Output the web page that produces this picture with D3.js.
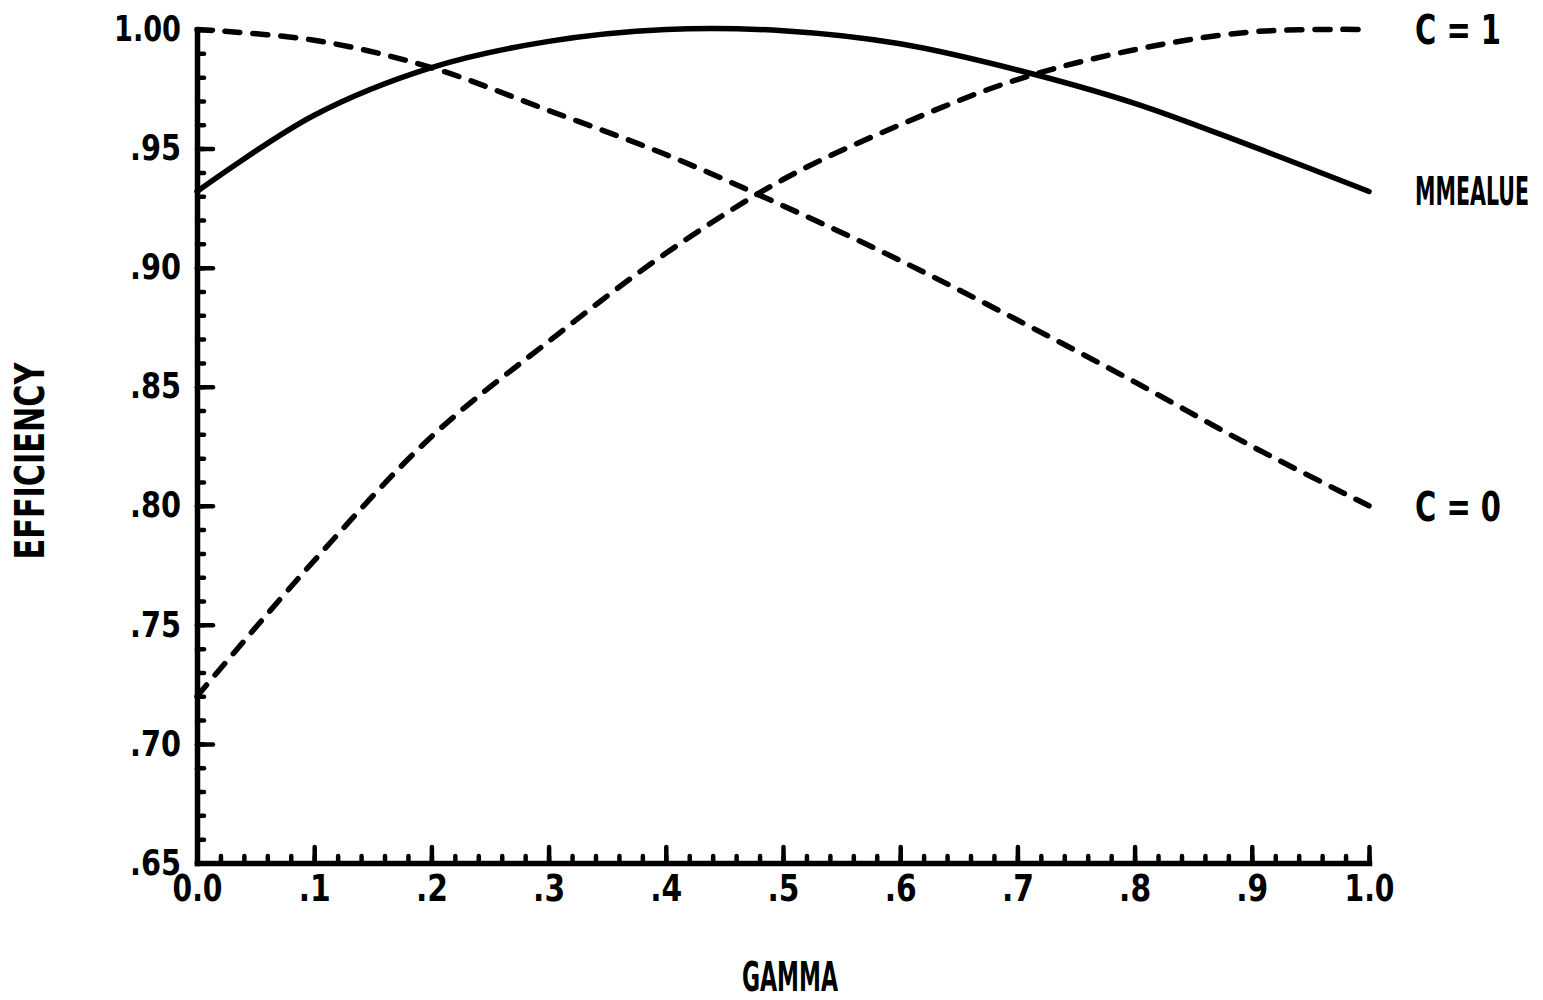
<!DOCTYPE html>
<html>
<head>
<meta charset="utf-8">
<script src="https://cdn.jsdelivr.net/npm/d3@7"></script>
<style>
  html, body { margin: 0; padding: 0; background: #fff; }
  svg { display: block; }
  .lbl { font-family: "DejaVu Sans", "Liberation Sans", sans-serif; font-stretch: condensed; font-weight: bold; fill: #000; }
</style>
</head>
<body>
<script>
// ---- data ----
const gamma   = [0.0, 0.1, 0.2, 0.3, 0.4, 0.5, 0.6, 0.7, 0.8, 0.9, 1.0];
const mmValue = [0.932, 0.964, 0.984, 0.995, 1.000, 0.9995, 0.994, 0.983, 0.969, 0.951, 0.932];
const cZero   = [1.000, 0.9955, 0.984, 0.966, 0.9475, 0.926, 0.903, 0.878, 0.852, 0.825, 0.800];
const cOne    = [0.720, 0.777, 0.829, 0.869, 0.906, 0.937, 0.960, 0.979, 0.9915, 0.999, 1.000];
const xTickValues = [0, 0.1, 0.2, 0.3, 0.4, 0.5, 0.6, 0.7, 0.8, 0.9, 1.0];
const xTickLabels = ["0.0", ".1", ".2", ".3", ".4", ".5", ".6", ".7", ".8", ".9", "1.0"];
const yTickValues = [0.65, 0.70, 0.75, 0.80, 0.85, 0.90, 0.95, 1.00];
const yTickLabels = [".65", ".70", ".75", ".80", ".85", ".90", ".95", "1.00"];
const seriesNames = ["C = 1", "MMEALUE", "C = 0"];
const xTitle = "GAMMA";
const yTitle = "EFFICIENCY";

const W = 1543, H = 1000;
const svg = d3.select("body").append("svg").attr("width", W).attr("height", H);

const x = d3.scaleLinear().domain([0, 1]).range([197, 1369]);
const y = d3.scaleLinear().domain([0.65, 1.0]).range([863, 29.5]);

const xMinor = d3.range(0, 51).map(i => i / 50);
const yMinor = d3.range(0, 36).map(i => 0.65 + i / 100);

// minor ticks
svg.append("g").attr("transform", `translate(0,${y(0.65)})`)
  .call(d3.axisBottom(x).tickValues(xMinor).tickSize(-7).tickSizeOuter(0).tickFormat(""))
  .call(g => g.selectAll("line").attr("stroke", "#000").attr("stroke-width", 4.5).attr("stroke-linecap", "round"))
  .call(g => g.select(".domain").remove());
svg.append("g").attr("transform", `translate(${x(0)},0)`)
  .call(d3.axisLeft(y).tickValues(yMinor).tickSize(-7).tickSizeOuter(0).tickFormat(""))
  .call(g => g.selectAll("line").attr("stroke", "#000").attr("stroke-width", 4.5).attr("stroke-linecap", "round"))
  .call(g => g.select(".domain").remove());

// major axes
const xAxis = svg.append("g").attr("transform", `translate(0,${y(0.65)})`)
  .call(d3.axisBottom(x).tickValues(xTickValues).tickSize(-16).tickSizeOuter(0).tickPadding(11)
    .tickFormat((d, i) => xTickLabels[i]));
const yAxis = svg.append("g").attr("transform", `translate(${x(0)},0)`)
  .call(d3.axisLeft(y).tickValues(yTickValues).tickSize(-16).tickSizeOuter(0).tickPadding(16)
    .tickFormat((d, i) => yTickLabels[i]));

[xAxis, yAxis].forEach(g => {
  g.select(".domain").attr("stroke", "#000").attr("stroke-width", 5.5).attr("stroke-linecap", "square");
  g.selectAll(".tick line").attr("stroke", "#000").attr("stroke-width", 4.5).attr("stroke-linecap", "round");
  g.selectAll(".tick text").attr("class", "lbl").attr("fill", "#000")
    .attr("lengthAdjust", "spacingAndGlyphs");
});
yAxis.selectAll(".tick text").attr("font-size", 35)
  .attr("textLength", (d, i) => yTickLabels[i].length === 4 ? 67 : 51);
xAxis.selectAll(".tick text").attr("font-size", 38)
  .attr("textLength", (d, i) => xTickLabels[i].length === 3 ? 50 : 32);

// lines
const line = d3.line().x(d => x(d[0])).y(d => y(d[1])).curve(d3.curveCatmullRom.alpha(0.5));
const series = [
  { name: seriesNames[0], vals: cOne, dash: "15,13", w: 86, fs: 41 },
  { name: seriesNames[1], vals: mmValue, dash: null, w: 114, fs: 39 },
  { name: seriesNames[2], vals: cZero, dash: "15,13", w: 86, fs: 41 }
];
series.forEach(s => {
  const p = svg.append("path")
    .datum(gamma.map((g, i) => [g, s.vals[i]]))
    .attr("d", line)
    .attr("fill", "none")
    .attr("stroke", "#000")
    .attr("stroke-width", 5.5)
    .attr("stroke-linecap", "round")
    .attr("stroke-linejoin", "round");
  if (s.dash) p.attr("stroke-dasharray", s.dash);
});

// series labels at the right ends (condensed by horizontal scaling to the printed width)
series.forEach(s => {
  const v = s.vals[s.vals.length - 1];
  const g = svg.append("g");
  const t = g.append("text").attr("class", "lbl")
    .attr("x", 0).attr("y", 0)
    .attr("dy", "0.36em")
    .attr("font-size", s.fs)
    .text(s.name);
  const natural = t.node().getComputedTextLength();
  const sx = natural > 0 ? s.w / natural : 1;
  g.attr("transform", `translate(1415,${y(v)}) scale(${sx},1)`);
});

// axis titles
svg.append("text").attr("class", "lbl")
  .attr("x", 790).attr("y", 991).attr("text-anchor", "middle")
  .attr("font-size", 40)
  .attr("textLength", 96).attr("lengthAdjust", "spacingAndGlyphs")
  .text(xTitle);
svg.append("text").attr("class", "lbl")
  .attr("transform", "translate(44,461) rotate(-90)").attr("text-anchor", "middle")
  .attr("font-size", 40)
  .attr("textLength", 197).attr("lengthAdjust", "spacingAndGlyphs")
  .text(yTitle);
</script>
</body>
</html>
